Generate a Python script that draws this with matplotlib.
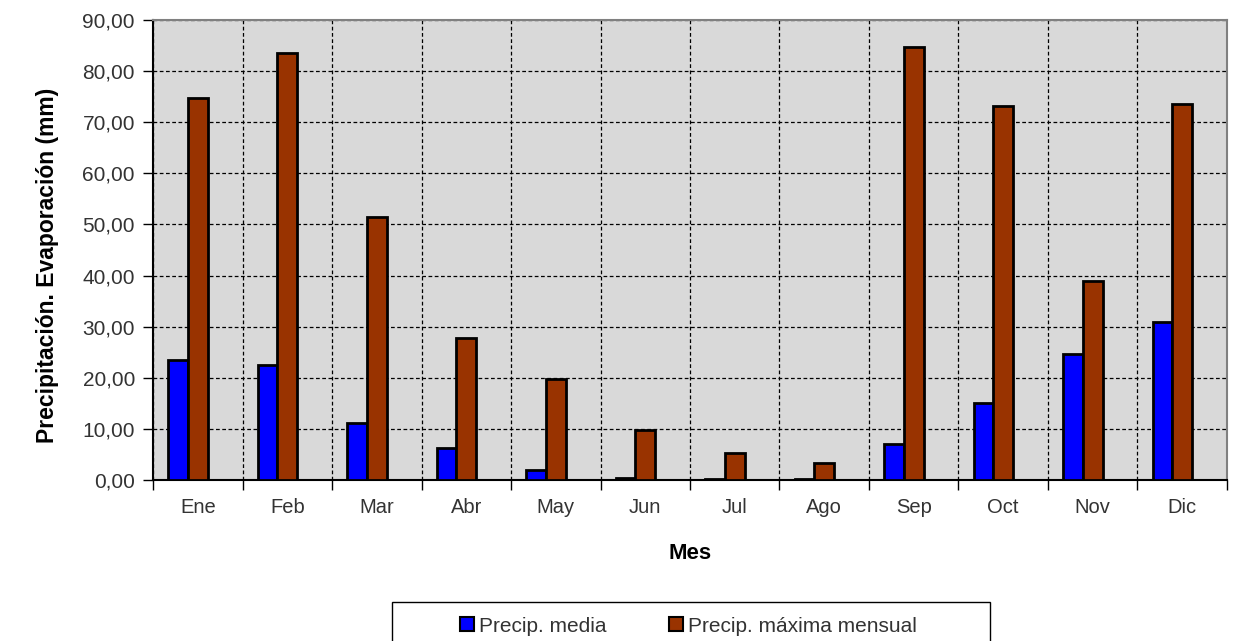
import matplotlib.pyplot as plt
import numpy as np
from matplotlib.patches import Rectangle
from matplotlib.ticker import FuncFormatter, MultipleLocator

# Datos mensuales (mm)
meses = ["Ene", "Feb", "Mar", "Abr", "May", "Jun", "Jul", "Ago", "Sep", "Oct", "Nov", "Dic"]
precip_media = [23.5, 22.5, 11.2, 6.3, 2.0, 0.4, 0.1, 0.1, 7.0, 15.0, 24.6, 30.9]
precip_maxima = [74.8, 83.5, 51.5, 27.8, 19.8, 9.8, 5.2, 3.4, 84.8, 73.2, 38.9, 73.5]

plt.rcParams['font.family'] = ['Liberation Sans', 'DejaVu Sans']
gris_texto = '#333333'

fig = plt.figure(figsize=(12.36, 6.41), dpi=100)
ax = fig.add_axes([0.1238, 0.2512, 0.8689, 0.7176])
ax.set_facecolor('#d9d9d9')

x = np.arange(len(meses))
w = 0.22
b1 = ax.bar(x - w, precip_media, w, color='#0000ff', edgecolor='black', linewidth=2,
            label='Precip. media', zorder=3)
b2 = ax.bar(x, precip_maxima, w, color='#993300', edgecolor='black', linewidth=2,
            label='Precip. máxima mensual', zorder=3)

ax.set_xlim(-0.5, len(meses) - 0.5)
ax.set_ylim(0, 90)
ax.yaxis.set_major_locator(MultipleLocator(10))
ax.yaxis.set_major_formatter(FuncFormatter(lambda v, p: f"{v:.2f}".replace('.', ',')))

# ticks en los limites de categoria, etiquetas en el centro
ax.set_xticks(np.arange(len(meses) + 1) - 0.5)
ax.set_xticklabels([])
ax.set_xticks(x, minor=True)
ax.set_xticklabels(meses, minor=True)
ax.tick_params(axis='x', which='minor', length=0, pad=13, labelsize=14.5, labelcolor=gris_texto)
ax.tick_params(axis='x', which='major', length=7, width=1, direction='out')
ax.tick_params(axis='y', length=7, width=1, direction='out', labelsize=15, pad=6,
               labelcolor=gris_texto)

ax.grid(True, which='major', color='black', linestyle=(0, (3, 2)), linewidth=0.9, zorder=1)
ax.set_axisbelow(True)

ax.spines['left'].set_color('black')
ax.spines['bottom'].set_color('black')
ax.spines['top'].set_color('#808080')
ax.spines['right'].set_color('#808080')
for s in ax.spines.values():
    s.set_linewidth(1.5)

ax.set_xlabel('Mes', fontsize=16, fontweight='bold', labelpad=19)
ax.set_ylabel('Precipitación. Evaporación (mm)', fontsize=16.5, fontweight='bold')
ax.yaxis.set_label_coords(-0.088, 0.467)

# marco de la leyenda (se sale por abajo, como en el original)
fig.patches.append(Rectangle((0.317, -0.05), 0.484, 0.111, transform=fig.transFigure,
                             facecolor='white', edgecolor='black', linewidth=1))
leg = fig.legend(handles=[b1, b2], loc='center', bbox_to_anchor=(0.557, 0.023),
                 ncol=2, frameon=False, fontsize=15, handlelength=0.65, handleheight=0.65,
                 handletextpad=0.25, columnspacing=3.0)
for t in leg.get_texts():
    t.set_color(gris_texto)
for h in leg.legend_handles:
    h.set_linewidth(1.5)

fig.savefig('out.png', dpi=100)
